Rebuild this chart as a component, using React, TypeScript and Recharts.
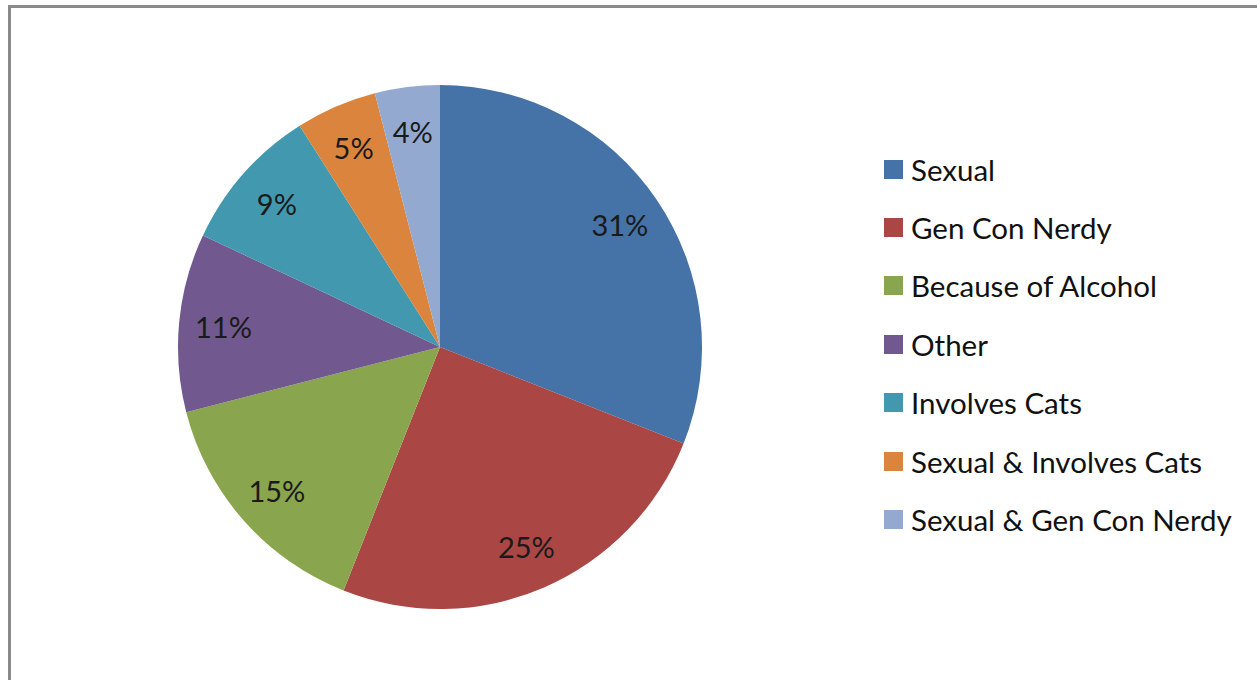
import React from 'react';
import { PieChart, Pie, Cell, Legend } from 'recharts';

const categories = [
  'Sexual',
  'Gen Con Nerdy',
  'Because of Alcohol',
  'Other',
  'Involves Cats',
  'Sexual & Involves Cats',
  'Sexual & Gen Con Nerdy',
];
const shares = [31, 25, 15, 11, 9, 5, 4];
const colors = ['#4572A7', '#AA4643', '#89A54E', '#71588F', '#4198AF', '#DB843D', '#93A9CF'];

const data = categories.map((name, i) => ({ name, value: shares[i] }));

const FONT = 'Lato, "Open Sans", sans-serif';
const RADIAN = Math.PI / 180;

const renderLabel = (props: any) => {
  const { cx, cy, midAngle, outerRadius, percent } = props;
  const r = outerRadius * 0.83;
  const x = cx + r * Math.cos(-midAngle * RADIAN);
  const y = cy + r * Math.sin(-midAngle * RADIAN);
  return (
    <text x={x} y={y} fill="#1a1a1a" textAnchor="middle" dominantBaseline="central" fontSize={29} fontFamily={FONT}>
      {Math.round(percent * 100)}%
    </text>
  );
};

const renderLegend = (props: any) => {
  // keep the data order instead of the default alphabetical sort
  const payload = [...(props.payload || [])].sort(
    (a: any, b: any) => categories.indexOf(a.value) - categories.indexOf(b.value)
  );
  return (
    <div style={{ fontFamily: FONT, fontSize: 29.5, color: '#111' }}>
      {payload.map((entry: any, i: number) => (
        <div key={i} style={{ display: 'flex', alignItems: 'center', height: 58.4 }}>
          <span style={{ display: 'inline-block', width: 19, height: 19, background: entry.color, marginRight: 8 }} />
          <span>{entry.value}</span>
        </div>
      ))}
    </div>
  );
};

export default function App() {
  return (
    <div style={{ position: 'relative', width: 1257, height: 680, overflow: 'hidden', background: '#fff' }}>
      <style>{'body{margin:0}'}</style>
      <div
        style={{
          position: 'absolute',
          left: 8,
          top: 5,
          width: 1400,
          height: 800,
          border: '3px solid #8a8a8a',
          boxSizing: 'border-box',
        }}
      />
      <div style={{ position: 'absolute', left: 0, top: 0 }}>
        <PieChart width={1257} height={680}>
          <Pie
            data={data}
            dataKey="value"
            nameKey="name"
            cx={435}
            cy={342}
            outerRadius={262}
            startAngle={90}
            endAngle={-270}
            stroke="none"
            label={renderLabel}
            labelLine={false}
            isAnimationActive={false}
          >
            {data.map((d, i) => (
              <Cell key={d.name} fill={colors[i]} />
            ))}
          </Pie>
          <Legend
            layout="vertical"
            align="right"
            verticalAlign="top"
            content={renderLegend}
            wrapperStyle={{ left: 884, top: 140, width: 370 }}
          />
        </PieChart>
      </div>
    </div>
  );
}
